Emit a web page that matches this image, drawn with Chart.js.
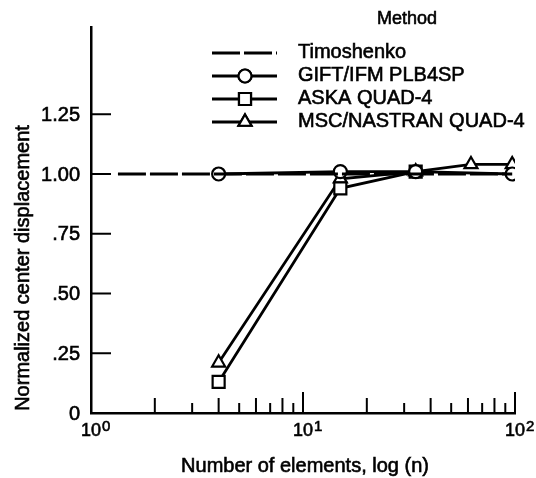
<!DOCTYPE html>
<html>
<head>
<meta charset="utf-8">
<script src="https://cdn.jsdelivr.net/npm/chart.js@4"></script>
<style>
  body { margin: 0; background: #fff; }
  #wrap { width: 536px; height: 478px; }
</style>
</head>
<body>
<div id="wrap"><canvas id="chart" width="536" height="478"></canvas></div>
<script>
// values
const timoshenkoX = [1.34, 97];
const timoshenkoY = [1.00, 1.00];
const giftX = [4, 15, 34, 97];
const giftY = [1.00, 1.01, 1.01, 1.00];
const askaX = [4, 15, 34];
const askaY = [0.13, 0.94, 1.01];
const mscX = [4, 15, 34, 62, 97];
const mscY = [0.21, 0.98, 1.01, 1.04, 1.04];

const yTicks = [0, 0.25, 0.5, 0.75, 1.0, 1.25];
const yTickLabels = ['0', '.25', '.50', '.75', '1.00', '1.25'];
const decades = [1, 10, 100];
const decadeExp = ['0', '1', '2'];

const FONT = '"Liberation Sans", Arial, sans-serif';

function pts(xs, ys) {
    return xs.map((x, i) => ({ x: x, y: ys[i] }));
}

// print-like text: fill plus a thin outline so it reads a bit heavier
function text(ctx, s, x, y) {
    ctx.fillText(s, x, y);
    ctx.strokeText(s, x, y);
}

const series = [
    { label: 'Timoshenko', data: pts(timoshenkoX, timoshenkoY), style: false, dash: [28, 4] },
    { label: 'GIFT/IFM PLB4SP', data: pts(giftX, giftY), style: 'circle', radius: 6.5 },
    { label: 'ASKA QUAD-4', data: pts(askaX, askaY), style: 'rect', radius: 8.5 },
    { label: 'MSC/NASTRAN QUAD-4', data: pts(mscX, mscY), style: 'triangle', radius: 7.5 }
];

// inward ticks, tick labels, titles and legend
const decorPlugin = {
    id: 'decor',
    afterDraw(chart) {
        const ctx = chart.ctx;
        const xs = chart.scales.x, ys = chart.scales.y;
        const area = chart.chartArea;
        ctx.save();
        ctx.strokeStyle = '#000';
        ctx.fillStyle = '#000';
        ctx.lineWidth = 2;

        // x ticks pointing up into the plot
        for (let d = 1; d < 100; d *= 10) {
            for (let m = 2; m <= 10; m++) {
                const px = xs.getPixelForValue(m * d);
                const len = m === 10 ? 21 : (m % 2 === 0 ? 15 : 10);
                ctx.beginPath();
                ctx.moveTo(px, area.bottom);
                ctx.lineTo(px, area.bottom - len);
                ctx.stroke();
            }
        }
        // y ticks pointing right
        yTicks.forEach(v => {
            if (v === 0) return;
            const py = ys.getPixelForValue(v);
            ctx.beginPath();
            ctx.moveTo(area.left, py);
            ctx.lineTo(area.left + 20, py);
            ctx.stroke();
        });

        ctx.lineWidth = 0.6;

        // y tick labels
        ctx.font = '20px ' + FONT;
        ctx.textAlign = 'right';
        ctx.textBaseline = 'middle';
        yTicks.forEach((v, i) => {
            text(ctx, yTickLabels[i], 80, ys.getPixelForValue(v) + 1);
        });

        // x tick labels: 10 with a raised exponent
        ctx.textBaseline = 'alphabetic';
        decades.forEach((v, i) => {
            const px = xs.getPixelForValue(v);
            ctx.font = '18px ' + FONT;
            ctx.textAlign = 'center';
            text(ctx, '10', px, 436);
            const w = ctx.measureText('10').width;
            ctx.font = '15px ' + FONT;
            ctx.textAlign = 'left';
            text(ctx, decadeExp[i], px + w / 2 + 1, 431);
        });

        // axis titles
        ctx.font = '20px ' + FONT;
        ctx.textAlign = 'center';
        text(ctx, 'Number of elements, log (n)', 305, 472);
        ctx.save();
        ctx.translate(29, 268);
        ctx.rotate(-Math.PI / 2);
        text(ctx, 'Normalized center displacement', 0, 0);
        ctx.restore();

        // legend
        ctx.font = '18px ' + FONT;
        ctx.textAlign = 'left';
        text(ctx, 'Method', 377, 24);
        ctx.font = '20px ' + FONT;
        const rowY = [53, 76, 99, 122];
        chart.data.datasets.forEach((ds, i) => {
            const y = rowY[i];
            ctx.lineWidth = 2.8;
            ctx.setLineDash(ds.borderDash || []);
            ctx.beginPath();
            ctx.moveTo(212, y);
            ctx.lineTo(277, y);
            ctx.stroke();
            ctx.setLineDash([]);
            if (ds.pointStyle) {
                ctx.fillStyle = '#fff';
                ctx.lineWidth = 2.2;
                Chart.helpers.drawPoint(ctx, {
                    pointStyle: ds.pointStyle, radius: ds.pointRadius, rotation: 0, borderWidth: 2.2
                }, 245, y);
                ctx.fill();
                ctx.stroke();
                ctx.fillStyle = '#000';
            }
            ctx.lineWidth = 0.6;
            text(ctx, ds.label, 298, y + 5);
        });
        ctx.restore();
    }
};

new Chart(document.getElementById('chart').getContext('2d'), {
    type: 'line',
    data: {
        datasets: series.map(s => ({
            label: s.label,
            data: s.data,
            borderColor: '#000',
            borderWidth: 2.8,
            borderDash: s.dash || [],
            pointStyle: s.style,
            pointRadius: s.style ? s.radius : 0,
            pointBackgroundColor: '#fff',
            pointBorderColor: '#000',
            pointBorderWidth: 2.2,
            fill: false,
            tension: 0
        }))
    },
    options: {
        responsive: false,
        animation: false,
        layout: { padding: { top: 27, right: 21, left: 0, bottom: 0 } },
        plugins: {
            legend: { display: false },
            tooltip: { enabled: false }
        },
        scales: {
            x: {
                type: 'logarithmic',
                min: 1,
                max: 100,
                grid: { display: false },
                border: { display: true, color: '#000', width: 2.5 },
                ticks: { display: false },
                afterFit: s => { s.height = 65; }
            },
            y: {
                type: 'linear',
                min: 0,
                max: 1.615,
                grid: { display: false },
                border: { display: true, color: '#000', width: 2.5 },
                ticks: { display: false },
                afterFit: s => { s.width = 91; }
            }
        }
    },
    plugins: [decorPlugin]
});
</script>
</body>
</html>
